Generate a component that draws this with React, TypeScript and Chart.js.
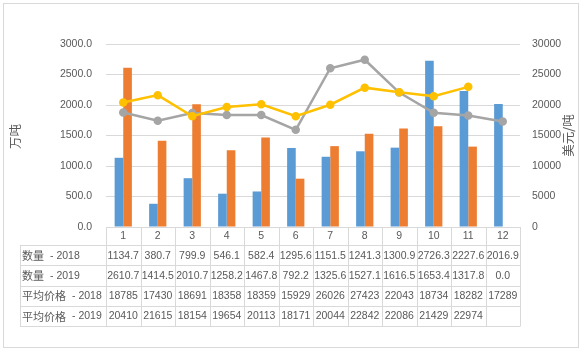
import React, { useEffect, useRef } from 'react';
import { Chart, registerables } from 'chart.js';

Chart.register(...registerables);

const categories = ['1', '2', '3', '4', '5', '6', '7', '8', '9', '10', '11', '12'];
const qty2018 = [1134.7, 380.7, 799.9, 546.1, 582.4, 1295.6, 1151.5, 1241.3, 1300.9, 2726.3, 2227.6, 2016.9];
const qty2019 = [2610.7, 1414.5, 2010.7, 1258.2, 1467.8, 792.2, 1325.6, 1527.1, 1616.5, 1653.4, 1317.8, 0.0];
const price2018 = [18785, 17430, 18691, 18358, 18359, 15929, 26026, 27423, 22043, 18734, 18282, 17289];
const price2019: (number | null)[] = [20410, 21615, 18154, 19654, 20113, 18171, 20044, 22842, 22086, 21429, 22974, null];
const rowNames = ['数量', '数量', '平均价格', '平均价格'];
const rowYears = ['2018', '2019', '2018', '2019'];
const leftAxisTitle = '万吨';
const rightAxisTitle = '美元/吨';

const BLUE = '#5B9BD5';
const ORANGE = '#ED7D31';
const GRAY = '#A5A5A5';
const YELLOW = '#FFC000';
const TEXT = '#595959';
const LINE = '#D9D9D9';
const NUM_FONT = '10.5px "Liberation Sans", Arial, sans-serif';
const CJK_FONT = '11px "Noto Sans CJK SC", sans-serif';
const TITLE_FONT = '12.5px "Noto Sans CJK SC", sans-serif';

const framePlugin = {
  id: 'frame',
  beforeDraw(chart: any) {
    const { ctx, width, height } = chart;
    ctx.save();
    ctx.fillStyle = '#ffffff';
    ctx.fillRect(0, 0, width, height);
    ctx.strokeStyle = LINE;
    ctx.lineWidth = 1;
    ctx.strokeRect(3.5, 3.5, 575, 344);
    ctx.restore();
  },
};

const tablePlugin = {
  id: 'dataTable',
  afterDraw(chart: any) {
    const { ctx, chartArea } = chart;
    const xs = chart.scales.x;
    const n = categories.length;
    const left = chartArea.left;
    const right = chartArea.right;
    const top = chartArea.bottom;
    const catH = 18;
    const rowH = 20.25;
    const labelLeft = 20;
    const bounds: number[] = [left];
    for (let i = 1; i < n; i++) {
      bounds.push((xs.getPixelForValue(i - 1) + xs.getPixelForValue(i)) / 2);
    }
    bounds.push(right);
    const rows = [qty2018, qty2019, price2018, price2019];
    const tableTop = top + catH;
    const tableBottom = tableTop + rowH * rows.length;

    ctx.save();
    ctx.strokeStyle = LINE;
    ctx.lineWidth = 1;
    ctx.beginPath();
    for (let r = 0; r <= rows.length; r++) {
      const y = Math.round(tableTop + r * rowH) + 0.5;
      ctx.moveTo(labelLeft, y);
      ctx.lineTo(right, y);
    }
    for (const b of bounds) {
      const x = Math.round(b) + 0.5;
      ctx.moveTo(x, top);
      ctx.lineTo(x, Math.round(tableBottom) + 0.5);
    }
    ctx.moveTo(labelLeft + 0.5, Math.round(tableTop) + 0.5);
    ctx.lineTo(labelLeft + 0.5, Math.round(tableBottom) + 0.5);
    ctx.stroke();

    ctx.fillStyle = TEXT;
    ctx.textBaseline = 'middle';
    ctx.textAlign = 'center';
    ctx.font = NUM_FONT;
    for (let i = 0; i < n; i++) {
      const cx = xs.getPixelForValue(i);
      ctx.fillText(categories[i], cx, top + catH / 2 + 0.5);
    }
    rows.forEach((vals, r) => {
      const cy = tableTop + r * rowH + rowH / 2 + 0.5;
      ctx.textAlign = 'center';
      ctx.font = NUM_FONT;
      vals.forEach((v, i) => {
        if (v === null || v === undefined) return;
        const txt = r < 2 ? (v as number).toFixed(1) : String(v);
        ctx.fillText(txt, xs.getPixelForValue(i), cy);
      });
      ctx.textAlign = 'left';
      ctx.font = CJK_FONT;
      const x0 = labelLeft + 2;
      ctx.fillText(rowNames[r], x0, cy);
      const w = ctx.measureText(rowNames[r]).width;
      ctx.font = NUM_FONT;
      ctx.fillText('- ' + rowYears[r], x0 + w + 6, cy);
    });

    ctx.font = TITLE_FONT;
    ctx.textAlign = 'center';
    const midY = (chartArea.top + chartArea.bottom) / 2;
    ctx.save();
    ctx.translate(15, midY + 1);
    ctx.rotate(-Math.PI / 2);
    ctx.fillText(leftAxisTitle, 0, 0);
    ctx.restore();
    ctx.save();
    ctx.translate(568, midY);
    ctx.rotate(-Math.PI / 2);
    ctx.fillText(rightAxisTitle, 0, 0);
    ctx.restore();
    ctx.restore();
  },
};

export default function App() {
  const ref = useRef<HTMLCanvasElement | null>(null);

  useEffect(() => {
    document.body.style.margin = '0';
    const canvas = ref.current;
    if (!canvas) return;
    const chart = new Chart(canvas, {
      type: 'bar',
      data: {
        labels: categories,
        datasets: [
          {
            type: 'line',
            label: '平均价格 - 2019',
            data: price2019,
            yAxisID: 'y1',
            borderColor: YELLOW,
            backgroundColor: YELLOW,
            borderWidth: 2.5,
            pointRadius: 3,
            pointBackgroundColor: YELLOW,
            pointBorderColor: YELLOW,
            tension: 0,
            order: 0,
          } as any,
          {
            type: 'line',
            label: '平均价格 - 2018',
            data: price2018,
            yAxisID: 'y1',
            borderColor: GRAY,
            backgroundColor: GRAY,
            borderWidth: 2.5,
            pointRadius: 3,
            pointBackgroundColor: GRAY,
            pointBorderColor: GRAY,
            tension: 0,
            order: 1,
          } as any,
          {
            type: 'bar',
            label: '数量 - 2018',
            data: qty2018,
            yAxisID: 'y',
            backgroundColor: BLUE,
            barPercentage: 1,
            categoryPercentage: 0.5,
            order: 2,
          },
          {
            type: 'bar',
            label: '数量 - 2019',
            data: qty2019,
            yAxisID: 'y',
            backgroundColor: ORANGE,
            barPercentage: 1,
            categoryPercentage: 0.5,
            order: 2,
          },
        ],
      },
      options: {
        responsive: false,
        animation: false,
        layout: { padding: { top: 44, bottom: 125, left: 0, right: 0 } },
        plugins: {
          legend: { display: false },
          tooltip: { enabled: false },
          title: { display: false },
        },
        scales: {
          x: {
            display: false,
            offset: true,
          },
          y: {
            position: 'left',
            min: 0,
            max: 3000,
            ticks: {
              stepSize: 500,
              color: TEXT,
              padding: 14,
              font: { family: '"Liberation Sans", Arial, sans-serif', size: 10.5 },
              callback: (v: any) => Number(v).toFixed(1),
            },
            grid: { color: LINE, drawTicks: false },
            border: { display: false },
            afterFit: (s: any) => {
              s.width = 106;
            },
          },
          y1: {
            position: 'right',
            min: 0,
            max: 30000,
            ticks: {
              stepSize: 5000,
              color: TEXT,
              padding: 12,
              font: { family: '"Liberation Sans", Arial, sans-serif', size: 10.5 },
              callback: (v: any) => String(Math.round(Number(v))),
            },
            grid: { display: false, drawTicks: false },
            border: { display: false },
            afterFit: (s: any) => {
              s.width = 68;
            },
          },
        },
      } as any,
      plugins: [framePlugin, tablePlugin],
    });
    return () => chart.destroy();
  }, []);

  return (
    <div style={{ width: 588, height: 352 }}>
      <canvas ref={ref} width={588} height={352} style={{ display: 'block' }} />
    </div>
  );
}
